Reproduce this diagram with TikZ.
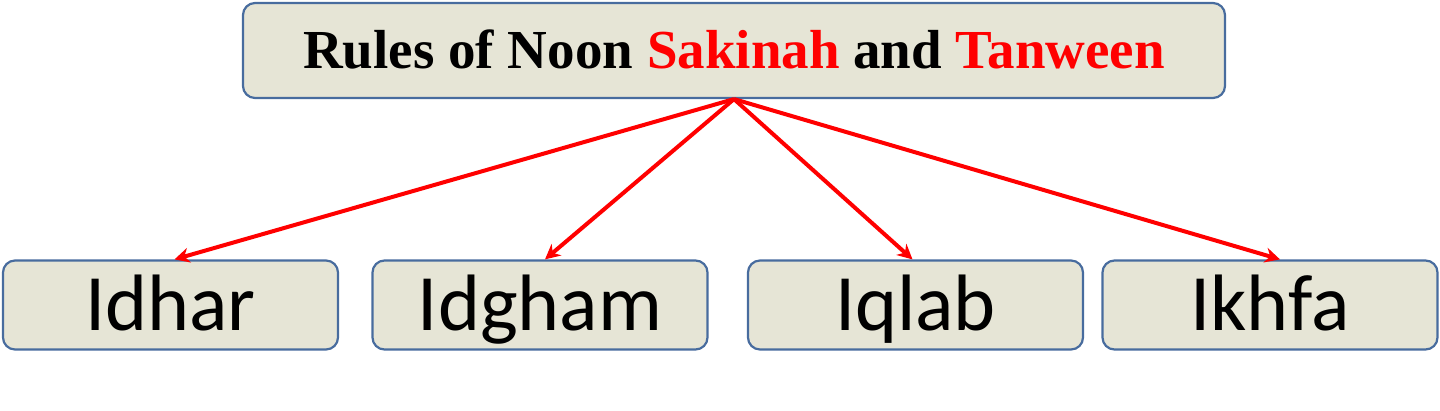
\documentclass[tikz,border=0pt]{standalone}
\usepackage{fontspec}
\setmainfont{Liberation Serif}
\newfontfamily\calfont{Carlito}
\usetikzlibrary{arrows.meta}
\definecolor{boxfill}{RGB}{230,229,214}
\definecolor{boxline}{RGB}{72,108,158}
\begin{document}
\begin{tikzpicture}[x=1pt,y=-1pt,
  box/.style={draw=boxline,line width=2.2pt,fill=boxfill,rounded corners=12pt,inner sep=0pt},
  leaf/.style={box,minimum width=335pt,minimum height=89pt,text height=52pt,text depth=0pt,font=\calfont\fontsize{80}{90}\selectfont},
  conn/.style={draw=red,line width=4pt,-{Stealth[length=15pt,width=15pt]}}]
\useasboundingbox (0,0) rectangle (1440,411);
\node[box,minimum width=982pt,minimum height=95pt,text height=36pt,text depth=0pt,font=\bfseries\fontsize{55}{60}\selectfont] (top) at (734,50.5)
  {Rules of Noon \textcolor{red}{Sakinah} and \textcolor{red}{Tanween}};
\node[leaf] (a) at (170.5,305) {Idhar};
\node[leaf] (b) at (540,305) {Idgham};
\node[leaf] (c) at (915.5,305) {Iqlab};
\node[leaf] (d) at (1270,305) {Ikhfa};
\coordinate (s) at (top.south);
\draw[conn] (s) -- ([xshift=4pt]a.north);
\draw[conn] (s) -- ([xshift=5pt]b.north);
\draw[conn] (s) -- ([xshift=-3pt]c.north);
\draw[conn] (s) -- ([xshift=10pt]d.north);
\end{tikzpicture}
\end{document}
